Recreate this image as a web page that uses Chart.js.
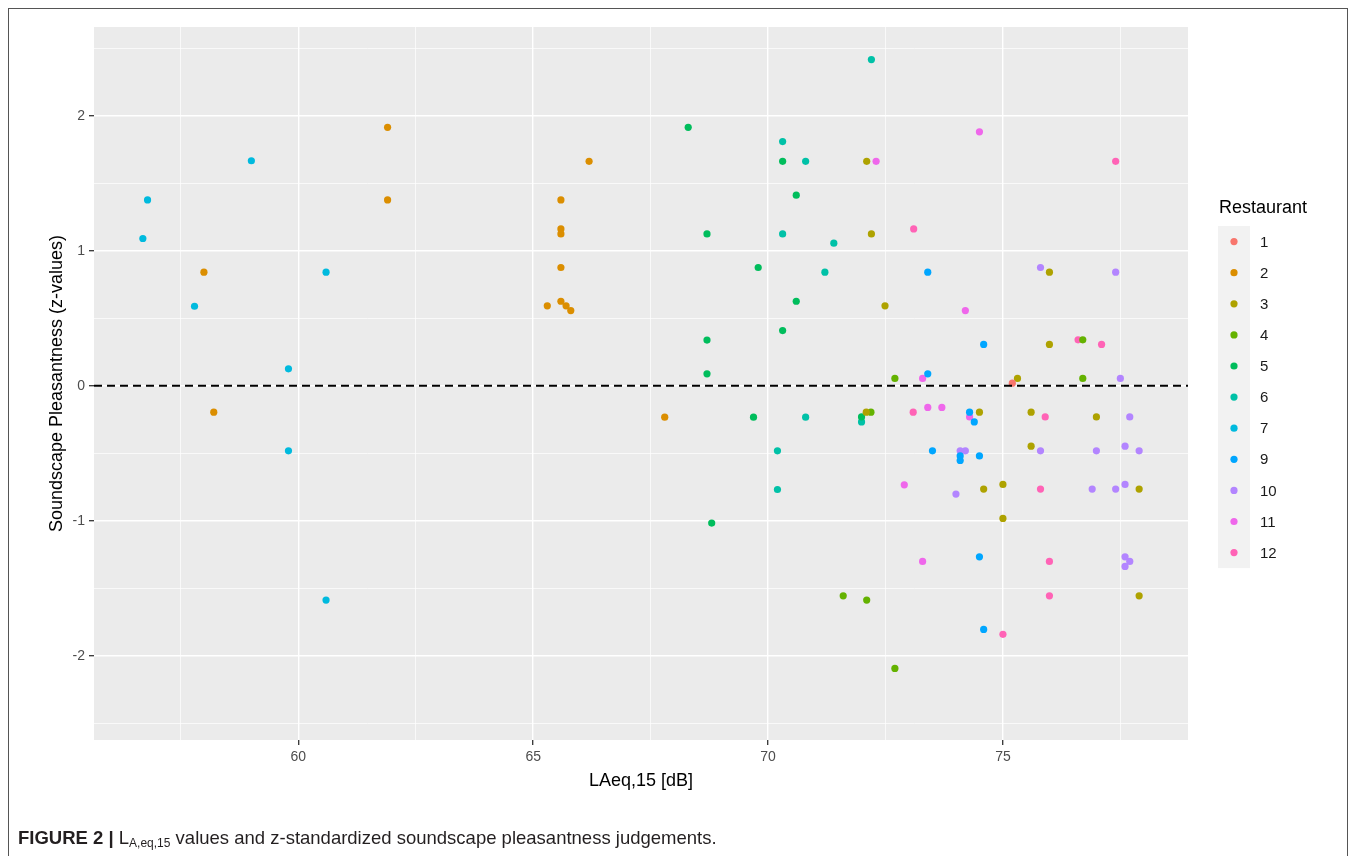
<!DOCTYPE html>
<html>
<head>
<meta charset="utf-8">
<script src="https://cdn.jsdelivr.net/npm/chart.js@4.4.1/dist/chart.umd.min.js"></script>
<style>
  html, body { margin: 0; padding: 0; background: #ffffff; }
  #wrap { position: relative; width: 1355px; height: 856px; overflow: hidden; }
  #frame { position: absolute; left: 8px; top: 8px; width: 1340px; height: 900px;
           border: 1px solid #555; box-sizing: border-box; }
  #chart { position: absolute; left: 0; top: 0; }
  #cap { position: absolute; left: 18px; top: 827px; font-size: 18.5px; color: #231f20;
         font-family: "Liberation Sans Narrow", "Arial Narrow", "Liberation Sans", sans-serif; white-space: nowrap; }
  #cap sub { font-size: 12px; vertical-align: -3px; line-height: 0; }
</style>
</head>
<body>
<div id="wrap">
  <div id="frame"></div>
  <canvas id="chart" width="1355" height="856"></canvas>
  <div id="cap"><b>FIGURE 2 |</b> L<sub>A,eq,15</sub> values and z-standardized soundscape pleasantness judgements.</div>
</div>
<script>
// ---- Data ----
const restaurants = ['1', '2', '3', '4', '5', '6', '7', '9', '10', '11', '12'];
const colors = ['#F8766D', '#DB8E00', '#AEA200', '#64B200', '#00BD5C', '#00C1A7', '#00BADE', '#00A6FF', '#B385FF', '#EF67EB', '#FF63B6'];

const laeq_r1  = [75.2];
const pleas_r1 = [0.02];

const laeq_r2  = [57.99, 58.2, 61.9, 61.9, 66.19, 65.59, 65.59, 65.59, 65.59, 65.59, 65.3, 65.7, 65.8, 67.8];
const pleas_r2 = [0.842, -0.195, 1.916, 1.378, 1.664, 1.378, 1.163, 1.126, 0.877, 0.627, 0.593, 0.593, 0.558, -0.232];

const laeq_r3  = [72.1, 72.2, 75.99, 72.49, 75.99, 75.31, 72.09, 74.5, 75.6, 76.99, 75.6, 74.59, 75.0, 77.9, 75.0, 77.9];
const pleas_r3 = [1.664, 1.126, 0.842, 0.593, 0.307, 0.055, -0.195, -0.195, -0.195, -0.23, -0.447, -0.765, -0.73, -0.765, -0.982, -1.556];

const laeq_r4  = [76.7, 72.7, 76.7, 72.19, 71.6, 72.1, 72.7];
const pleas_r4 = [0.341, 0.055, 0.055, -0.195, -1.556, -1.587, -2.094];

const laeq_r5  = [68.3, 70.31, 70.6, 68.7, 69.79, 70.6, 70.31, 68.7, 68.7, 69.69, 68.8, 71.99];
const pleas_r5 = [1.916, 1.664, 1.413, 1.126, 0.877, 0.627, 0.41, 0.339, 0.089, -0.232, -1.017, -0.23];

const laeq_r6  = [72.2, 70.31, 70.8, 70.31, 71.4, 71.21, 70.8, 71.99, 70.2, 70.2];
const pleas_r6 = [2.418, 1.81, 1.664, 1.126, 1.057, 0.842, -0.232, -0.267, -0.481, -0.768];

const laeq_r7  = [59.0, 56.79, 56.69, 60.59, 57.79, 59.79, 59.79, 60.59];
const pleas_r7 = [1.668, 1.378, 1.092, 0.842, 0.59, 0.126, -0.481, -1.587];

const laeq_r9  = [73.4, 74.59, 73.4, 74.29, 74.39, 73.5, 74.09, 74.09, 74.5, 74.5, 74.59];
const pleas_r9 = [0.842, 0.307, 0.089, -0.195, -0.267, -0.481, -0.519, -0.553, -0.519, -1.267, -1.805];

const laeq_r10  = [75.8, 77.4, 77.5, 77.7, 74.09, 74.2, 75.8, 76.99, 77.6, 77.9, 74.0, 76.9, 77.4, 77.6, 77.6, 77.7, 77.6];
const pleas_r10 = [0.877, 0.842, 0.055, -0.23, -0.481, -0.481, -0.481, -0.481, -0.447, -0.481, -0.802, -0.765, -0.765, -0.73, -1.267, -1.301, -1.338];

const laeq_r11  = [74.5, 72.3, 74.2, 73.29, 73.4, 73.7, 74.29, 72.9, 73.29];
const pleas_r11 = [1.882, 1.664, 0.558, 0.055, -0.16, -0.16, -0.23, -0.733, -1.301];

const laeq_r12  = [77.4, 73.1, 76.6, 77.1, 73.09, 75.9, 75.8, 75.99, 75.99, 75.0];
const pleas_r12 = [1.664, 1.163, 0.341, 0.307, -0.195, -0.23, -0.765, -1.301, -1.556, -1.841];

const laeqSeries  = [laeq_r1, laeq_r2, laeq_r3, laeq_r4, laeq_r5, laeq_r6, laeq_r7, laeq_r9, laeq_r10, laeq_r11, laeq_r12];
const pleasSeries = [pleas_r1, pleas_r2, pleas_r3, pleas_r4, pleas_r5, pleas_r6, pleas_r7, pleas_r9, pleas_r10, pleas_r11, pleas_r12];

const xTicks = [57.5, 60, 62.5, 65, 67.5, 70, 72.5, 75, 77.5];
const yTicks = [-2.5, -2, -1.5, -1, -0.5, 0, 0.5, 1, 1.5, 2, 2.5];
const xRange = [55.65, 78.94];
const yRange = [-2.624, 2.659];
const refLineY = 0;

// ---- Chart ----
const datasets = restaurants.map((r, i) => ({
  type: 'scatter',
  label: r,
  data: laeqSeries[i].map((x, j) => ({ x: x, y: pleasSeries[i][j] })),
  backgroundColor: colors[i],
  borderWidth: 0,
  pointRadius: 3.6,
  pointHoverRadius: 3.6,
  order: 2
}));
datasets.push({
  type: 'line',
  label: 'hline',
  data: [{ x: xRange[0], y: refLineY }, { x: xRange[1], y: refLineY }],
  borderColor: '#000000',
  borderWidth: 2,
  borderDash: [8, 5],
  pointRadius: 0,
  fill: false,
  order: 1
});

const isMajorX = v => Math.abs(v / 5 - Math.round(v / 5)) < 1e-6;
const isMajorY = v => Math.abs(v - Math.round(v)) < 1e-6;

const panelBg = {
  id: 'panelBg',
  beforeDraw(chart) {
    const { ctx, chartArea: a } = chart;
    ctx.save();
    ctx.fillStyle = '#EBEBEB';
    ctx.fillRect(a.left, a.top, a.right - a.left, a.bottom - a.top);
    ctx.restore();
  }
};

const ggLegend = {
  id: 'ggLegend',
  afterDraw(chart) {
    const ctx = chart.ctx;
    ctx.save();
    ctx.fillStyle = '#000';
    ctx.font = '18px "Liberation Sans", Arial, sans-serif';
    ctx.textBaseline = 'middle';
    ctx.textAlign = 'left';
    ctx.fillText('Restaurant', 1219, 208);
    const top = 226, step = 31.1;
    ctx.fillStyle = '#F2F2F2';
    ctx.fillRect(1218, top, 32, step * restaurants.length);
    restaurants.forEach((r, i) => {
      const cy = top + 15.6 + i * step;
      ctx.beginPath();
      ctx.arc(1234, cy, 3.6, 0, Math.PI * 2);
      ctx.fillStyle = colors[i];
      ctx.fill();
      ctx.fillStyle = '#1A1A1A';
      ctx.font = '15px "Liberation Sans", Arial, sans-serif';
      ctx.fillText(r, 1260, cy + 1);
    });
    ctx.restore();
  }
};

new Chart(document.getElementById('chart'), {
  data: { datasets },
  options: {
    responsive: false,
    animation: false,
    events: [],
    layout: { padding: { left: 0, top: 27, right: 167, bottom: 56 } },
    plugins: { legend: { display: false }, tooltip: { enabled: false } },
    scales: {
      x: {
        type: 'linear',
        min: xRange[0], max: xRange[1],
        afterBuildTicks: s => { s.ticks = xTicks.map(v => ({ value: v })); },
        afterFit: s => { s.height = 60; },
        border: { display: false },
        grid: {
          color: '#FFFFFF',
          lineWidth: c => (c.tick && isMajorX(c.tick.value)) ? 1.4 : 0.7,
          tickColor: c => (c.tick && isMajorX(c.tick.value)) ? '#333333' : 'rgba(0,0,0,0)',
          tickWidth: 1.3,
          tickLength: 5,
          drawTicks: true
        },
        ticks: {
          autoSkip: false,
          maxRotation: 0,
          padding: 4,
          color: '#4D4D4D',
          font: { size: 14, family: '"Liberation Sans", Arial, sans-serif' },
          callback: v => isMajorX(v) ? String(v) : ''
        },
        title: {
          display: true,
          text: 'LAeq,15 [dB]',
          color: '#000',
          font: { size: 18, family: '"Liberation Sans", Arial, sans-serif' },
          padding: { top: 0, bottom: 8 }
        }
      },
      y: {
        type: 'linear',
        min: yRange[0], max: yRange[1],
        afterBuildTicks: s => { s.ticks = yTicks.map(v => ({ value: v })); },
        afterFit: s => { s.width = 94; },
        border: { display: false },
        grid: {
          color: '#FFFFFF',
          lineWidth: c => (c.tick && isMajorY(c.tick.value)) ? 1.4 : 0.7,
          tickColor: c => (c.tick && isMajorY(c.tick.value)) ? '#333333' : 'rgba(0,0,0,0)',
          tickWidth: 1.3,
          tickLength: 5,
          drawTicks: true
        },
        ticks: {
          autoSkip: false,
          padding: 4,
          color: '#4D4D4D',
          font: { size: 14, family: '"Liberation Sans", Arial, sans-serif' },
          callback: v => isMajorY(v) ? String(v) : ''
        },
        title: {
          display: true,
          text: 'Soundscape Pleasantness (z-values)',
          color: '#000',
          font: { size: 18, family: '"Liberation Sans", Arial, sans-serif' },
          padding: { top: 46, bottom: 0 }
        }
      }
    }
  },
  plugins: [panelBg, ggLegend]
});
</script>
</body>
</html>
